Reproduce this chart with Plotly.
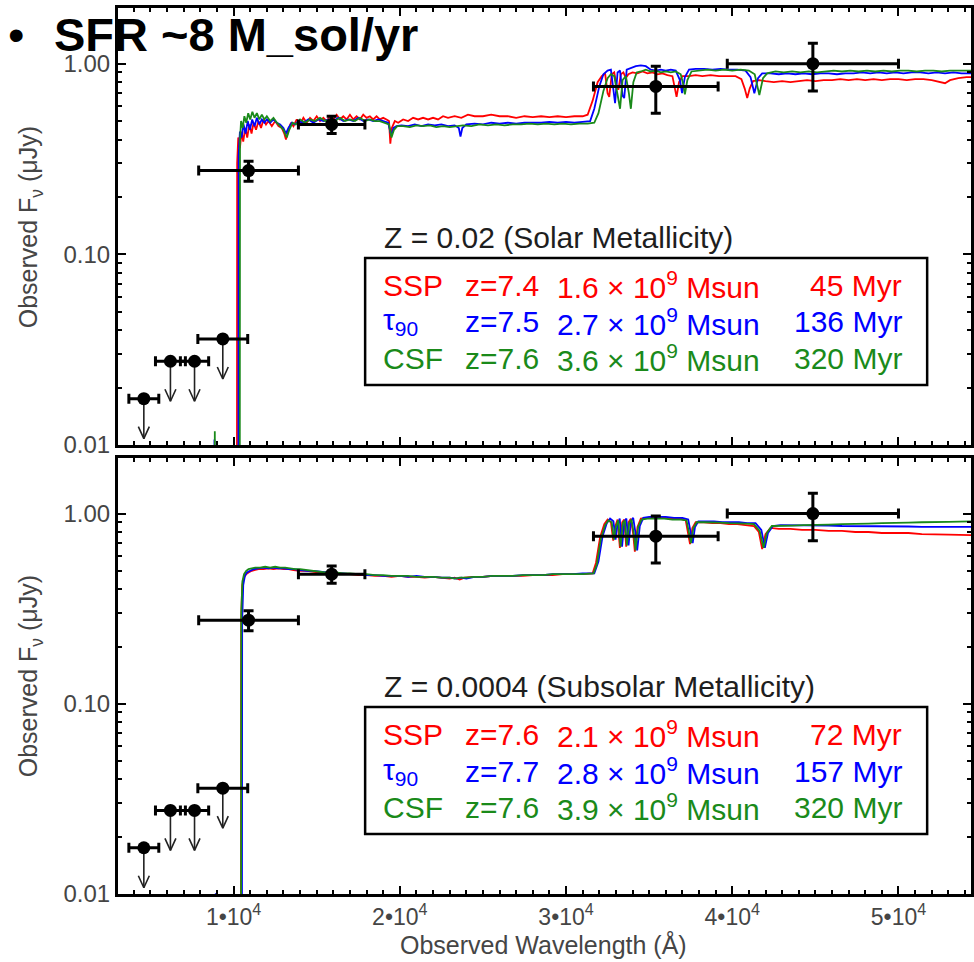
import math
import plotly.graph_objects as go

# ---------------- photometry (μJy), shown in both panels ----------------
phot_wave = [4600, 6200, 7650, 9350, 10900, 15900, 35400, 44850]
phot_dwave = [900, 900, 850, 1500, 3000, 2000, 3750, 5150]
phot_flux = [0.0175, 0.0275, 0.0275, 0.036, 0.275, 0.48, 0.76, 1.00]
phot_err = [0, 0, 0, 0, 0.033, 0.05, 0.21, 0.28]
phot_limit = [True, True, True, True, False, False, False, False]

# ---------------- model spectra: Z = 0.02 ----------------
solar_ssp_wave = [3000, 10190, 10215, 10280, 10380, 10480, 10580, 10700, 10820, 10950, 11080, 11200, 11350, 11500,
                  11650, 11800, 11950, 12100, 12300, 12500, 12700, 12900, 13050, 13150, 13300, 13450, 13600, 13800,
                  14000, 14200, 14400, 14600, 14800, 15000, 15200, 15400, 15600, 15800, 16000, 16200, 16400, 16600,
                  16800, 17000, 17200, 17400, 17600, 17800, 18000, 18200, 18400, 18600, 18800, 19000, 19200, 19350,
                  19430, 19520, 19700, 19900, 20200, 20500, 20800, 21100, 21400, 21700, 22000, 22300, 22600, 22900,
                  23300, 23700, 24100, 24500, 25000, 25500, 26000, 26500, 27000, 27500, 28000, 28500, 29000, 29500,
                  30000, 30500, 31000, 31300, 31600, 31900, 32150, 32350, 32500, 32600, 32750, 32900, 33050, 33150,
                  33300, 33450, 33600, 33750, 34000, 34300, 34600, 34900, 35200, 35500, 35800, 36100, 36400, 36550,
                  36650, 36800, 37000, 37400, 37800, 38200, 38700, 39200, 39700, 40200, 40550, 40750, 40900, 41050,
                  41250, 41600, 42000, 42500, 43000, 43500, 44000, 44500, 45000, 45500, 46000, 46500, 47000, 47500,
                  48000, 48500, 49000, 49500, 50000, 50500, 51000, 51500, 52000, 52500, 52800, 53100, 53600, 54100,
                  54500]
solar_ssp_flux = [1e-4, 1e-4, 0.30, 0.41, 0.36, 0.44, 0.39, 0.46, 0.41, 0.48, 0.43, 0.49, 0.45, 0.50,
                  0.46, 0.51, 0.48, 0.50, 0.47, 0.50, 0.47, 0.46, 0.43, 0.40, 0.45, 0.49, 0.47, 0.51,
                  0.48, 0.52, 0.49, 0.52, 0.50, 0.53, 0.50, 0.52, 0.50, 0.53, 0.51, 0.54, 0.51, 0.53,
                  0.51, 0.54, 0.51, 0.53, 0.51, 0.54, 0.52, 0.53, 0.51, 0.53, 0.51, 0.52, 0.51, 0.50,
                  0.38, 0.46, 0.50, 0.49, 0.51, 0.50, 0.52, 0.51, 0.52, 0.51, 0.52, 0.51, 0.53, 0.52,
                  0.53, 0.52, 0.54, 0.53, 0.53, 0.54, 0.53, 0.53, 0.52, 0.53, 0.525, 0.53, 0.525, 0.53,
                  0.525, 0.53, 0.53, 0.54, 0.64, 0.80, 0.86, 0.89, 0.70, 0.67, 0.88, 0.90, 0.76, 0.73,
                  0.88, 0.90, 0.84, 0.88, 0.90, 0.89, 0.91, 0.89, 0.90, 0.88, 0.89, 0.87, 0.86, 0.74,
                  0.67, 0.80, 0.86, 0.86, 0.87, 0.86, 0.87, 0.86, 0.86, 0.86, 0.83, 0.74, 0.66, 0.74,
                  0.81, 0.82, 0.81, 0.80, 0.81, 0.80, 0.81, 0.82, 0.81, 0.82, 0.82, 0.83, 0.82, 0.83,
                  0.82, 0.83, 0.82, 0.83, 0.83, 0.82, 0.83, 0.83, 0.82, 0.80, 0.79, 0.82, 0.84, 0.85,
                  0.85]

solar_tau_wave = [3000, 8820, 8850, 8880, 10280, 10305, 10380, 10480, 10600, 10720, 10850, 10980, 11120, 11260,
                  11400, 11550, 11700, 11850, 12000, 12200, 12400, 12600, 12800, 13000, 13150, 13300, 13500, 13700,
                  13900, 14200, 14500, 14800, 15100, 15400, 15700, 16000, 16300, 16600, 16900, 17200, 17500, 17800,
                  18100, 18400, 18700, 19000, 19300, 19480, 19620, 19800, 20100, 20500, 20900, 21300, 21700, 22100,
                  22500, 22900, 23300, 23550, 23650, 23760, 24000, 24500, 25000, 25500, 26000, 26500, 27000, 27500,
                  28000, 28500, 29000, 29500, 30000, 30500, 31000, 31450, 31700, 32000, 32250, 32500, 32700, 32850,
                  32950, 33100, 33250, 33400, 33500, 33650, 33900, 34200, 34500, 34800, 35100, 35400, 35700, 36000,
                  36300, 36600, 36850, 36980, 37150, 37400, 37800, 38300, 38800, 39300, 39800, 40300, 40800, 41100,
                  41330, 41550, 41800, 42300, 42800, 43300, 43800, 44300, 44800, 45300, 45800, 46300, 46800, 47300,
                  47800, 48300, 48800, 49300, 49800, 50300, 50800, 51300, 51800, 52300, 52800, 53300, 53800, 54500]
solar_tau_flux = [1e-4, 1e-4, 0.0107, 1e-4, 1e-4, 0.33, 0.44, 0.41, 0.48, 0.43, 0.50, 0.45, 0.51, 0.47,
                  0.52, 0.48, 0.51, 0.49, 0.51, 0.49, 0.51, 0.49, 0.48, 0.46, 0.43, 0.46, 0.49, 0.48,
                  0.50, 0.49, 0.51, 0.49, 0.51, 0.50, 0.51, 0.50, 0.52, 0.50, 0.51, 0.50, 0.52, 0.50,
                  0.51, 0.50, 0.51, 0.50, 0.49, 0.42, 0.46, 0.47, 0.475, 0.47, 0.48, 0.47, 0.48, 0.475,
                  0.48, 0.47, 0.475, 0.46, 0.415, 0.46, 0.48, 0.485, 0.48, 0.49, 0.485, 0.49, 0.485, 0.49,
                  0.49, 0.49, 0.495, 0.49, 0.495, 0.49, 0.495, 0.50, 0.58, 0.76, 0.88, 0.92, 0.93, 0.70,
                  0.62, 0.90, 0.92, 0.68, 0.66, 0.93, 0.95, 0.97, 0.98, 0.97, 0.93, 0.92, 0.93, 0.92,
                  0.93, 0.92, 0.82, 0.70, 0.85, 0.93, 0.94, 0.94, 0.93, 0.94, 0.93, 0.93, 0.92, 0.85,
                  0.70, 0.84, 0.89, 0.89, 0.88, 0.89, 0.88, 0.89, 0.88, 0.89, 0.89, 0.88, 0.89, 0.89,
                  0.90, 0.89, 0.90, 0.89, 0.90, 0.89, 0.90, 0.90, 0.89, 0.90, 0.89, 0.90, 0.89, 0.89]

solar_csf_wave = [3000, 8840, 8870, 8900, 10360, 10385, 10450, 10550, 10650, 10760, 10880, 11000, 11130, 11260,
                  11400, 11550, 11700, 11850, 12000, 12200, 12400, 12600, 12800, 13000, 13200, 13350, 13550, 13750,
                  14000, 14300, 14600, 14900, 15200, 15500, 15800, 16100, 16400, 16700, 17000, 17300, 17600, 17900,
                  18200, 18500, 18800, 19100, 19350, 19500, 19650, 19850, 20200, 20600, 21000, 21400, 21800, 22200,
                  22600, 23000, 23400, 23800, 24300, 24800, 25300, 25800, 26300, 26800, 27300, 27800, 28300, 28800,
                  29300, 29800, 30300, 30800, 31300, 31700, 31950, 32250, 32500, 32700, 32900, 33100, 33250, 33400,
                  33600, 33780, 33900, 34050, 34250, 34500, 34800, 35100, 35400, 35700, 36000, 36300, 36600, 36900,
                  37050, 37150, 37300, 37550, 38000, 38500, 39000, 39500, 40000, 40500, 41000, 41350, 41630, 41850,
                  42100, 42600, 43100, 43600, 44100, 44600, 45100, 45600, 46100, 46600, 47100, 47600, 48100, 48600,
                  49100, 49600, 50100, 50600, 51100, 51600, 52100, 52600, 53100, 53600, 54500]
solar_csf_flux = [1e-4, 1e-4, 0.0118, 1e-4, 1e-4, 0.40, 0.50, 0.46, 0.53, 0.49, 0.55, 0.51, 0.56, 0.52,
                  0.55, 0.51, 0.54, 0.51, 0.53, 0.50, 0.52, 0.49, 0.47, 0.45, 0.41, 0.45, 0.49, 0.48,
                  0.51, 0.49, 0.51, 0.50, 0.52, 0.50, 0.51, 0.50, 0.52, 0.50, 0.51, 0.50, 0.52, 0.50,
                  0.51, 0.50, 0.50, 0.49, 0.48, 0.41, 0.45, 0.47, 0.47, 0.465, 0.475, 0.47, 0.475, 0.465,
                  0.47, 0.465, 0.47, 0.475, 0.47, 0.48, 0.475, 0.48, 0.475, 0.48, 0.48, 0.485, 0.48, 0.485,
                  0.48, 0.485, 0.48, 0.485, 0.485, 0.49, 0.55, 0.72, 0.84, 0.88, 0.86, 0.68, 0.58, 0.82,
                  0.86, 0.70, 0.58, 0.80, 0.90, 0.91, 0.93, 0.91, 0.92, 0.90, 0.91, 0.90, 0.91, 0.88,
                  0.78, 0.69, 0.82, 0.91, 0.92, 0.93, 0.92, 0.93, 0.92, 0.93, 0.92, 0.88, 0.685, 0.84,
                  0.89, 0.91, 0.90, 0.91, 0.90, 0.91, 0.90, 0.91, 0.92, 0.91, 0.92, 0.91, 0.92, 0.91,
                  0.92, 0.91, 0.92, 0.92, 0.91, 0.92, 0.92, 0.91, 0.92, 0.92, 0.92]

# ---------------- model spectra: Z = 0.0004 ----------------
sub_ssp_wave = [3000, 10430, 10455, 10520, 10620, 10750, 10900, 11100, 11300, 11500, 11800, 12100, 12400, 12700,
                13000, 13300, 13600, 14000, 14400, 14800, 15200, 15500, 15800, 16200, 16600, 17000, 17500, 18000,
                18500, 19000, 19500, 20000, 20500, 21000, 21500, 22000, 22500, 23000, 23300, 23600, 23900, 24400,
                25000, 25600, 26200, 26800, 27400, 28000, 28600, 29200, 29800, 30400, 31000, 31600, 31800, 32050,
                32300, 32500, 32700, 32840, 32950, 33100, 33240, 33380, 33500, 33620, 33760, 33900, 34040, 34140,
                34300, 34500, 34900, 35400, 35900, 36400, 36900, 37200, 37350, 37460, 37600, 37800, 38300, 38800,
                39300, 39800, 40300, 40800, 41300, 41600, 41800, 42000, 42300, 42800, 43500, 44200, 45000, 45800,
                46600, 47400, 48200, 49000, 49800, 50600, 51400, 52200, 53000, 54500]
sub_ssp_flux = [1e-4, 1e-4, 0.28, 0.42, 0.46, 0.48, 0.49, 0.50, 0.505, 0.51, 0.51, 0.515, 0.51, 0.515,
                0.51, 0.51, 0.505, 0.50, 0.50, 0.495, 0.49, 0.485, 0.49, 0.485, 0.48, 0.48, 0.475, 0.475,
                0.47, 0.47, 0.465, 0.47, 0.465, 0.465, 0.46, 0.465, 0.46, 0.455, 0.46, 0.45, 0.46, 0.465,
                0.465, 0.47, 0.47, 0.47, 0.47, 0.475, 0.475, 0.475, 0.48, 0.48, 0.48, 0.485, 0.55, 0.75,
                0.88, 0.93, 0.90, 0.72, 0.85, 0.93, 0.66, 0.90, 0.93, 0.67, 0.90, 0.94, 0.78, 0.63,
                0.85, 0.94, 0.95, 0.95, 0.95, 0.94, 0.94, 0.92, 0.78, 0.69, 0.84, 0.90, 0.90, 0.89,
                0.89, 0.88, 0.88, 0.87, 0.86, 0.80, 0.65, 0.78, 0.84, 0.83, 0.83, 0.82, 0.82, 0.81,
                0.81, 0.80, 0.80, 0.79, 0.79, 0.79, 0.78, 0.78, 0.775, 0.77]

sub_tau_wave = [3000, 8900, 8930, 8960, 10490, 10515, 10580, 10680, 10800, 11000, 11200, 11500, 11800, 12100,
                12400, 12700, 13000, 13300, 13600, 14000, 14400, 14800, 15200, 15500, 15800, 16200, 16600, 17000,
                17500, 18000, 18500, 19000, 19500, 20000, 20500, 21000, 21500, 22000, 22500, 23000, 23400, 23700,
                24000, 24500, 25000, 25600, 26200, 26800, 27400, 28000, 28600, 29200, 29800, 30400, 31000, 31700,
                31950, 32200, 32450, 32650, 32850, 32980, 33080, 33230, 33370, 33510, 33630, 33760, 33900, 34040,
                34180, 34280, 34440, 34650, 35000, 35500, 36000, 36500, 37000, 37350, 37500, 37620, 37760, 37960,
                38400, 38900, 39400, 39900, 40400, 40900, 41400, 41750, 41960, 42150, 42450, 42900, 43600, 44300,
                45000, 45800, 46600, 47400, 48200, 49000, 49800, 50600, 51400, 52200, 53000, 54500]
sub_tau_flux = [1e-4, 1e-4, 0.0101, 1e-4, 1e-4, 0.27, 0.42, 0.47, 0.49, 0.50, 0.51, 0.515, 0.52, 0.515,
                0.52, 0.515, 0.515, 0.51, 0.51, 0.505, 0.50, 0.50, 0.495, 0.49, 0.49, 0.485, 0.485, 0.48,
                0.48, 0.475, 0.475, 0.47, 0.47, 0.47, 0.465, 0.47, 0.465, 0.465, 0.46, 0.46, 0.455, 0.46,
                0.455, 0.465, 0.465, 0.47, 0.47, 0.47, 0.475, 0.475, 0.475, 0.48, 0.48, 0.48, 0.485, 0.485,
                0.56, 0.76, 0.89, 0.94, 0.91, 0.73, 0.86, 0.94, 0.67, 0.91, 0.94, 0.68, 0.91, 0.95,
                0.79, 0.64, 0.86, 0.95, 0.96, 0.96, 0.96, 0.95, 0.95, 0.93, 0.79, 0.70, 0.85, 0.91,
                0.91, 0.91, 0.90, 0.90, 0.90, 0.89, 0.89, 0.82, 0.66, 0.79, 0.86, 0.87, 0.87, 0.87,
                0.865, 0.865, 0.86, 0.86, 0.86, 0.855, 0.855, 0.855, 0.85, 0.85, 0.85, 0.85]

sub_csf_wave = [3000, 10440, 10462, 10530, 10630, 10760, 10900, 11100, 11300, 11600, 11900, 12200, 12500, 12800,
                13100, 13400, 13700, 14000, 14400, 14800, 15200, 15500, 15800, 16200, 16600, 17000, 17500, 18000,
                18500, 19000, 19500, 20000, 20500, 21000, 21500, 22000, 22500, 23000, 23300, 23600, 24000, 24500,
                25000, 25600, 26200, 26800, 27400, 28000, 28600, 29200, 29800, 30400, 31000, 31650, 31850, 32100,
                32350, 32550, 32750, 32880, 32990, 33140, 33280, 33420, 33540, 33660, 33800, 33940, 34080, 34180,
                34340, 34540, 34900, 35400, 35900, 36400, 36900, 37250, 37400, 37520, 37660, 37860, 38300, 38800,
                39300, 39800, 40300, 40800, 41300, 41650, 41880, 42080, 42380, 42900, 43600, 44300, 45000, 45800,
                46600, 47400, 48200, 49000, 49800, 50600, 51400, 52200, 53000, 54500]
sub_csf_flux = [1e-4, 1e-4, 0.30, 0.44, 0.48, 0.50, 0.51, 0.515, 0.52, 0.52, 0.525, 0.52, 0.525, 0.52,
                0.52, 0.515, 0.51, 0.51, 0.505, 0.50, 0.495, 0.49, 0.495, 0.49, 0.485, 0.485, 0.48, 0.48,
                0.475, 0.475, 0.47, 0.47, 0.47, 0.465, 0.465, 0.465, 0.46, 0.46, 0.455, 0.46, 0.46, 0.465,
                0.465, 0.47, 0.47, 0.47, 0.475, 0.475, 0.475, 0.48, 0.48, 0.48, 0.48, 0.485, 0.54, 0.74,
                0.87, 0.92, 0.90, 0.73, 0.85, 0.92, 0.67, 0.89, 0.92, 0.68, 0.89, 0.93, 0.78, 0.64,
                0.85, 0.93, 0.94, 0.94, 0.94, 0.93, 0.93, 0.92, 0.78, 0.70, 0.84, 0.90, 0.90, 0.90,
                0.895, 0.89, 0.89, 0.885, 0.88, 0.81, 0.66, 0.79, 0.86, 0.86, 0.865, 0.87, 0.87, 0.875,
                0.88, 0.88, 0.885, 0.89, 0.89, 0.895, 0.90, 0.90, 0.905, 0.91]

# ---------------- fit summaries ----------------
solar_title = "Z = 0.02 (Solar Metallicity)"
solar_rows = [("SSP", "z=7.4", "1.6", "45 Myr"),
              ("τ<sub>90</sub>", "z=7.5", "2.7", "136 Myr"),
              ("CSF", "z=7.6", "3.6", "320 Myr")]
sub_title = "Z = 0.0004 (Subsolar Metallicity)"
sub_rows = [("SSP", "z=7.6", "2.1", "72 Myr"),
            ("τ<sub>90</sub>", "z=7.7", "2.8", "157 Myr"),
            ("CSF", "z=7.6", "3.9", "320 Myr")]

x_tick_vals = [10000, 20000, 30000, 40000, 50000]
x_tick_text = ["1•10<sup>4</sup>", "2•10<sup>4</sup>", "3•10<sup>4</sup>", "4•10<sup>4</sup>", "5•10<sup>4</sup>"]
y_tick_vals = [0.01, 0.1, 1.0]
y_tick_text = ["0.01", "0.10", "1.00"]
y_minor_vals = [m * d for d in (0.01, 0.1) for m in range(2, 10)]

RED, BLUE, GREEN = "#ff0000", "#0000ff", "#1a8a1a"
MODEL_COLORS = [RED, BLUE, GREEN]
FONT = "Liberation Sans, Arial, Helvetica, sans-serif"
TEXT_GREY = "#454545"
ARROW_DEX = 0.21      # length of upper-limit arrows (dex)
HEAD_DEX = 0.063      # height of the arrow head (dex)
HEAD_HALF_WAVE = 330  # half width of the arrow head (Å)

# ---------------- page geometry ----------------
W, H = 974, 962
ML, MR, MT, MB = 118, 0, 8, 68
PW, PH = W - ML - MR, H - MT - MB


def px(xpix):
    return (xpix - ML) / PW


def py(ypix):
    return (H - MB - ypix) / PH


lim_w = [w for w, l in zip(phot_wave, phot_limit) if l]
lim_dw = [d for d, l in zip(phot_dwave, phot_limit) if l]
lim_f = [f for f, l in zip(phot_flux, phot_limit) if l]
det_w = [w for w, l in zip(phot_wave, phot_limit) if not l]
det_dw = [d for d, l in zip(phot_dwave, phot_limit) if not l]
det_f = [f for f, l in zip(phot_flux, phot_limit) if not l]
det_e = [e for e, l in zip(phot_err, phot_limit) if not l]

# downward arrows for the upper limits: shaft plus open "V" head
arrow_x, arrow_y = [], []
for w, f in zip(lim_w, lim_f):
    tip = f * 10 ** (-ARROW_DEX)
    arm = tip * 10 ** HEAD_DEX
    arrow_x += [w, w, None, w - HEAD_HALF_WAVE, w, w + HEAD_HALF_WAVE, None]
    arrow_y += [f, tip, None, arm, tip, arm, None]

fig = go.Figure()

panels = [
    dict(xa="x", ya="y", dy=0,
         models=[(solar_ssp_wave, solar_ssp_flux), (solar_tau_wave, solar_tau_flux),
                 (solar_csf_wave, solar_csf_flux)],
         title=solar_title, rows=solar_rows),
    dict(xa="x2", ya="y2", dy=449,
         models=[(sub_ssp_wave, sub_ssp_flux), (sub_tau_wave, sub_tau_flux),
                 (sub_csf_wave, sub_csf_flux)],
         title=sub_title, rows=sub_rows),
]

annotations = []
shapes = []

for p in panels:
    for (wv, fl), col in zip(p["models"], MODEL_COLORS):
        fig.add_trace(go.Scatter(x=wv, y=fl, mode="lines", xaxis=p["xa"], yaxis=p["ya"],
                                 line=dict(color=col, width=1.8), showlegend=False, hoverinfo="skip"))
    fig.add_trace(go.Scatter(x=arrow_x, y=arrow_y, mode="lines", xaxis=p["xa"], yaxis=p["ya"],
                             line=dict(color="#222222", width=1.6), showlegend=False, hoverinfo="skip"))
    fig.add_trace(go.Scatter(x=lim_w, y=lim_f, mode="markers", xaxis=p["xa"], yaxis=p["ya"],
                             marker=dict(color="black", size=13),
                             error_x=dict(type="data", array=lim_dw, color="black", thickness=3, width=5),
                             showlegend=False))
    fig.add_trace(go.Scatter(x=det_w, y=det_f, mode="markers", xaxis=p["xa"], yaxis=p["ya"],
                             marker=dict(color="black", size=13),
                             error_x=dict(type="data", array=det_dw, color="black", thickness=3, width=5),
                             error_y=dict(type="data", array=det_e, color="black", thickness=3, width=5),
                             showlegend=False))

    dy = p["dy"]
    # fit-summary heading and framed table
    annotations.append(dict(x=px(383), y=py(237 + dy), xref="paper", yref="paper", xanchor="left",
                            yanchor="middle", text=p["title"], showarrow=False,
                            font=dict(family=FONT, size=30, color="#1e1e1e")))
    shapes.append(dict(type="rect", xref="paper", yref="paper", x0=px(366), x1=px(930),
                       y0=py(385 + dy), y1=py(258 + dy), line=dict(color="black", width=2.5)))
    for (lab, zz, mass, age), col, yrow in zip(p["rows"], MODEL_COLORS, (285, 322, 358)):
        yy = py(yrow + dy)
        fnt = dict(family=FONT, size=30, color=col)
        annotations.append(dict(x=px(382), y=yy, xref="paper", yref="paper", xanchor="left",
                                yanchor="middle", text=lab, showarrow=False, font=fnt))
        annotations.append(dict(x=px(464), y=yy, xref="paper", yref="paper", xanchor="left",
                                yanchor="middle", text=zz, showarrow=False, font=fnt))
        annotations.append(dict(x=px(557), y=yy, xref="paper", yref="paper", xanchor="left",
                                yanchor="middle", text=f"{mass} × 10<sup>9</sup> Msun",
                                showarrow=False, font=fnt))
        annotations.append(dict(x=px(907), y=yy, xref="paper", yref="paper", xanchor="right",
                                yanchor="middle", text=age, showarrow=False, font=fnt))
    # vertical axis title
    annotations.append(dict(x=px(30), y=py(227 + dy), xref="paper", yref="paper", xanchor="center",
                            yanchor="middle", textangle=-90, showarrow=False,
                            text="Observed F<sub>ν</sub> (μJy)",
                            font=dict(family=FONT, size=25, color=TEXT_GREY)))

annotations.append(dict(x=px(545), y=py(945), xref="paper", yref="paper", xanchor="center",
                        yanchor="middle", text="Observed Wavelength (Å)", showarrow=False,
                        font=dict(family=FONT, size=25, color=TEXT_GREY)))
annotations.append(dict(x=px(6), y=py(35), xref="paper", yref="paper", xanchor="left",
                        yanchor="middle", text="•", showarrow=False,
                        font=dict(family=FONT, size=47, color="black")))
annotations.append(dict(x=px(52), y=py(34), xref="paper", yref="paper", xanchor="left",
                        yanchor="middle", text="<b>SFR ~8 M_sol/yr</b>", showarrow=False,
                        font=dict(family=FONT, size=47, color="black")))

x_common = dict(range=[3046, 54363], showgrid=False, zeroline=False, showline=True, linewidth=3,
                linecolor="black", mirror="ticks", ticks="inside", ticklen=8, tickwidth=2,
                tickcolor="black", tickvals=x_tick_vals, ticktext=x_tick_text,
                tickfont=dict(family=FONT, size=23, color=TEXT_GREY),
                minor=dict(ticks="inside", ticklen=4, tickwidth=2, tickcolor="black",
                           dtick=1000, tick0=0, showgrid=False))
y_common = dict(type="log", range=[-2, 0.292], showgrid=False, zeroline=False, showline=True,
                linewidth=3, linecolor="black", mirror="ticks", ticks="inside", ticklen=8,
                tickwidth=2, tickcolor="black", tickvals=y_tick_vals, ticktext=y_tick_text,
                tickfont=dict(family=FONT, size=24, color=TEXT_GREY),
                minor=dict(ticks="inside", ticklen=4, tickwidth=2, tickcolor="black",
                           tickvals=y_minor_vals, showgrid=False))

top_lo, top_hi = py(445), py(8)
bot_lo, bot_hi = py(894), py(458)

fig.update_layout(
    width=W, height=H,
    margin=dict(l=ML, r=MR, t=MT, b=MB, pad=0),
    paper_bgcolor="white", plot_bgcolor="white",
    showlegend=False,
    xaxis=dict(**x_common, anchor="y", showticklabels=False),
    yaxis=dict(**y_common, anchor="x", domain=[top_lo, top_hi]),
    xaxis2=dict(**x_common, anchor="y2", matches="x"),
    yaxis2=dict(**y_common, anchor="x2", domain=[bot_lo, bot_hi]),
    annotations=annotations,
    shapes=shapes,
)

fig.write_html("out.html")
